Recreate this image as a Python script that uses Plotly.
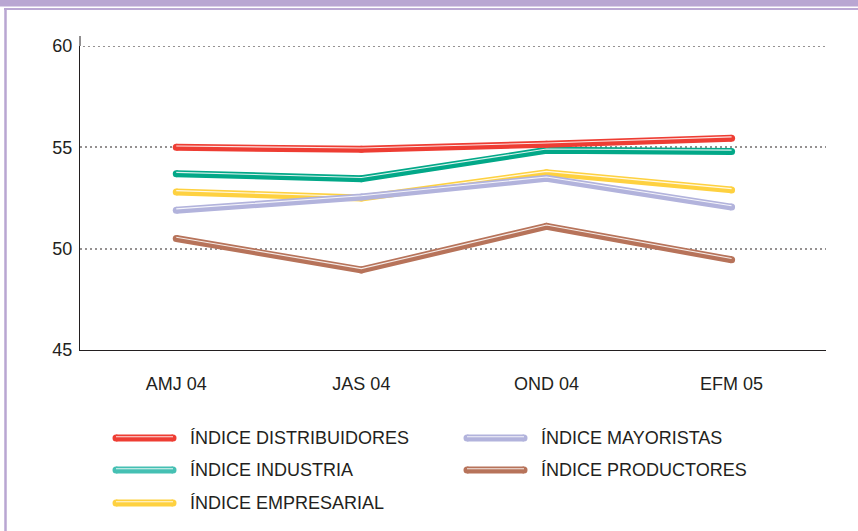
import plotly.graph_objects as go

categories = ["AMJ 04", "JAS 04", "OND 04", "EFM 05"]
series_names = ["ÍNDICE DISTRIBUIDORES", "ÍNDICE INDUSTRIA", "ÍNDICE EMPRESARIAL",
                "ÍNDICE MAYORISTAS", "ÍNDICE PRODUCTORES"]
distribuidores = [55.0, 54.9, 55.15, 55.45]
industria = [53.7, 53.45, 54.85, 54.8]
empresarial = [52.8, 52.5, 53.75, 52.9]
mayoristas = [51.9, 52.55, 53.47, 52.05]
productores = [50.5, 48.95, 51.1, 49.45]
y_ticks = [45, 50, 55, 60]

colors = {
    "ÍNDICE DISTRIBUIDORES": "#EE3D33",
    "ÍNDICE INDUSTRIA": "#02A888",
    "ÍNDICE EMPRESARIAL": "#FED140",
    "ÍNDICE MAYORISTAS": "#B2B3DC",
    "ÍNDICE PRODUCTORES": "#B7735A",
}
legend_colors = dict(colors)
legend_colors["ÍNDICE INDUSTRIA"] = "#45C0B3"

values = {
    "ÍNDICE DISTRIBUIDORES": distribuidores,
    "ÍNDICE INDUSTRIA": industria,
    "ÍNDICE EMPRESARIAL": empresarial,
    "ÍNDICE MAYORISTAS": mayoristas,
    "ÍNDICE PRODUCTORES": productores,
}

W, H = 858, 531
ML, MR, MT, MB = 80, 32, 46, 181
PW, PH = W - ML - MR, H - MT - MB
Y0, Y1 = 45, 60
HIGHLIGHT_SHIFT = 1.3 * (Y1 - Y0) / PH  # white highlight sits ~1.3px above the centre
GRID_COLOR = "#959191"


def px_x(px):
    return (px - ML) / PW


def px_y(py):
    return (H - MB - py) / PH


fig = go.Figure()
draw_order = ["ÍNDICE PRODUCTORES", "ÍNDICE EMPRESARIAL", "ÍNDICE MAYORISTAS",
              "ÍNDICE INDUSTRIA", "ÍNDICE DISTRIBUIDORES"]
for name in draw_order:
    c = colors[name]
    fig.add_trace(go.Scatter(
        x=categories, y=values[name], mode="lines+markers", name=name,
        line=dict(color=c, width=7),
        marker=dict(color=c, size=7, line=dict(width=0)),
        showlegend=False, hoverinfo="skip"))
    fig.add_trace(go.Scatter(
        x=categories, y=[v + HIGHLIGHT_SHIFT for v in values[name]], mode="lines", name=name,
        line=dict(color="rgba(255,255,255,0.85)", width=1.1),
        showlegend=False, hoverinfo="skip"))

shapes = []
annotations = []
# frame
shapes.append(dict(type="rect", xref="paper", yref="paper",
                   x0=px_x(-5), x1=px_x(W + 5), y0=px_y(6.5), y1=px_y(-5),
                   fillcolor="#B9A6D2", line=dict(width=0), layer="below"))
shapes.append(dict(type="line", xref="paper", yref="paper",
                   x0=px_x(4), x1=px_x(W + 5), y0=px_y(9), y1=px_y(9),
                   line=dict(color="#BBA8D4", width=2), layer="below"))
shapes.append(dict(type="line", xref="paper", yref="paper",
                   x0=px_x(5.5), x1=px_x(5.5), y0=px_y(8), y1=px_y(H + 5),
                   line=dict(color="#B9A6D2", width=2.5), layer="below"))
# top gridline (plotly omits the grid line sitting on the plot edge)
shapes.append(dict(type="line", xref="paper", yref="y",
                   x0=0.004, x1=1, y0=y_ticks[-1], y1=y_ticks[-1],
                   line=dict(color=GRID_COLOR, width=2, dash="2px,3px"), layer="below"))
# y-axis line continues a little above the top tick
shapes.append(dict(type="line", xref="paper", yref="paper",
                   x0=0, x1=0, y0=1, y1=px_y(36),
                   line=dict(color="#231F20", width=1)))

# legend (manual, two columns)
legend_layout = [
    ("ÍNDICE DISTRIBUIDORES", 113, 438),
    ("ÍNDICE INDUSTRIA", 113, 470),
    ("ÍNDICE EMPRESARIAL", 113, 503),
    ("ÍNDICE MAYORISTAS", 464, 438),
    ("ÍNDICE PRODUCTORES", 464, 470),
]
for name, lx, ly in legend_layout:
    c = legend_colors[name]
    shapes.append(dict(type="line", xref="paper", yref="paper",
                       x0=px_x(lx + 3), x1=px_x(lx + 60), y0=px_y(ly), y1=px_y(ly),
                       line=dict(color=c, width=7)))
    for ex in (lx + 3, lx + 60):
        shapes.append(dict(type="circle", xref="paper", yref="paper",
                           x0=px_x(ex - 3.5), x1=px_x(ex + 3.5), y0=px_y(ly - 3.5), y1=px_y(ly + 3.5),
                           fillcolor=c, line=dict(width=0)))
    shapes.append(dict(type="line", xref="paper", yref="paper",
                       x0=px_x(lx + 3), x1=px_x(lx + 60), y0=px_y(ly - 1.2), y1=px_y(ly - 1.2),
                       line=dict(color="rgba(255,255,255,0.85)", width=1.1)))
    annotations.append(dict(xref="paper", yref="paper", x=px_x(lx + 75), y=px_y(ly),
                            text=name, showarrow=False, xanchor="left", yanchor="middle",
                            font=dict(size=18, color="#231F20",
                                      family="Liberation Sans, Arial, sans-serif")))

fig.update_layout(
    width=W, height=H,
    margin=dict(l=ML, r=MR, t=MT, b=MB),
    paper_bgcolor="white", plot_bgcolor="white",
    font=dict(family="Liberation Sans, Arial, sans-serif", size=18, color="#231F20"),
    shapes=shapes, annotations=annotations,
    showlegend=False,
    xaxis=dict(type="category", categoryorder="array", categoryarray=categories,
               range=[-0.52, 3.51], showgrid=False, zeroline=False,
               showline=True, linecolor="#231F20", linewidth=1,
               ticks="", ticklabelstandoff=17,
               tickfont=dict(size=18)),
    yaxis=dict(range=[Y0, Y1], tickvals=y_ticks, ticktext=[str(v) for v in y_ticks],
               showgrid=True, gridcolor=GRID_COLOR, gridwidth=2, griddash="2px,3px",
               zeroline=False, showline=True, linecolor="#231F20", linewidth=1,
               ticks="", ticklabelstandoff=3, tickfont=dict(size=18)),
)

fig.write_html("out.html", config={"displayModeBar": False},
               post_script="document.body.style.margin='0';document.body.style.overflow='hidden';")
